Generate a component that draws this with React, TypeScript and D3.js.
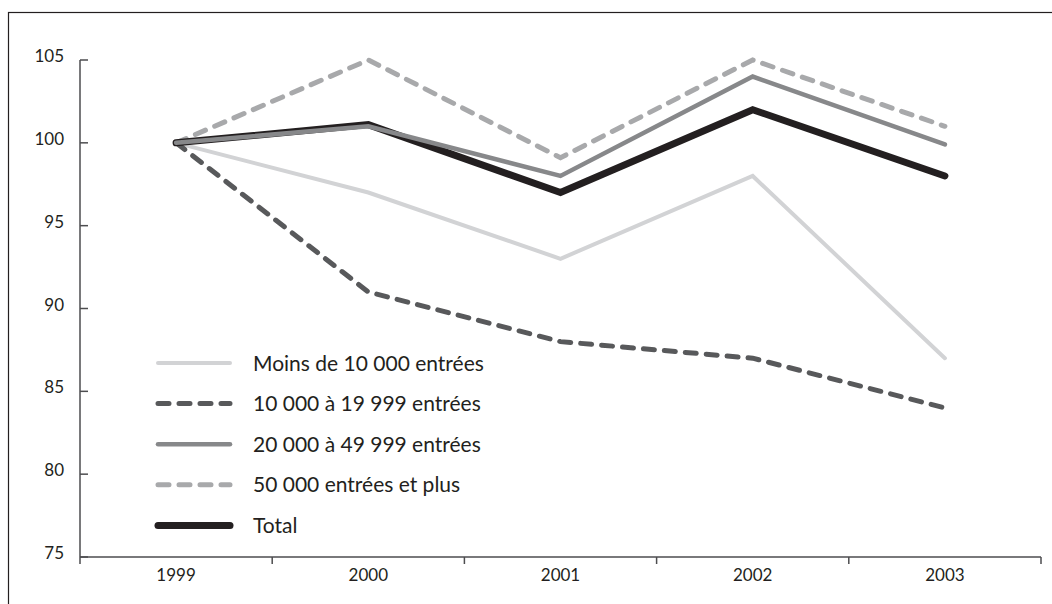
import React from "react";
import * as d3 from "d3";

const years = ["1999", "2000", "2001", "2002", "2003"];
const yTicks = [75, 80, 85, 90, 95, 100, 105];

const seriesNames = [
  "Moins de 10 000 entrées",
  "10 000 à 19 999 entrées",
  "20 000 à 49 999 entrées",
  "50 000 entrées et plus",
  "Total",
];
const moins10000 = [100, 97, 93, 98, 87];
const de10000a19999 = [100, 91, 88, 87, 84];
const de20000a49999 = [100, 101, 98, 104, 99.9];
const plus50000 = [100, 105, 99.1, 105, 101];
const total = [100, 101.1, 97, 102, 98];

const seriesValues = [moins10000, de10000a19999, de20000a49999, plus50000, total];
const styles = [
  { color: "#d2d3d5", width: 4, dash: "" },
  { color: "#58595b", width: 5, dash: "11,10" },
  { color: "#87888a", width: 4.5, dash: "" },
  { color: "#a8a9ab", width: 5, dash: "11,10" },
  { color: "#231f20", width: 7, dash: "" },
];
const drawOrder = [0, 1, 3, 4, 2];

export default function App() {
  const W = 1052, H = 604;
  const left = 80, right = 1041, top = 60, bottom = 557;
  const x = d3.scaleBand<string>().domain(years).range([left, right]);
  const y = d3.scaleLinear().domain([75, 105]).range([bottom, top]);
  const line = d3
    .line<number>()
    .x((_, i) => (x(years[i]) as number) + x.bandwidth() / 2)
    .y((d) => y(d));
  const font = "Lato, 'Open Sans', sans-serif";
  const textColor = "#231f20";
  const axisColor = "#4d4d4f";
  const tickXs = [...years.map((yr) => x(yr) as number), right];

  return (
    <svg
      width={W}
      height={H}
      style={{ position: "absolute", left: 0, top: 0, background: "#fff" }}
      fontFamily={font}
    >
      <rect x={8.5} y={12.5} width={1200} height={800} fill="none" stroke="#231f20" strokeWidth={1.2} />
      {/* y axis */}
      <line x1={left} x2={left} y1={top} y2={bottom} stroke={axisColor} strokeWidth={1.5} />
      {yTicks.map((t) => (
        <g key={t}>
          <line x1={left} x2={left + 8} y1={y(t)} y2={y(t)} stroke={axisColor} strokeWidth={1.5} />
          <text x={left - 16} y={y(t) + 2} textAnchor="end" fontSize={17} fill={textColor}>
            {t}
          </text>
        </g>
      ))}
      {/* x axis */}
      <line x1={left} x2={right} y1={bottom} y2={bottom} stroke={axisColor} strokeWidth={1.5} />
      {tickXs.map((tx, i) => (
        <line key={i} x1={tx} x2={tx} y1={bottom} y2={bottom + 7} stroke={axisColor} strokeWidth={1.5} />
      ))}
      {years.map((yr) => (
        <text
          key={yr}
          x={(x(yr) as number) + x.bandwidth() / 2}
          y={bottom + 24}
          textAnchor="middle"
          fontSize={17}
          fill={textColor}
        >
          {yr}
        </text>
      ))}
      {/* lines */}
      {drawOrder.map((si) => (
        <path
          key={si}
          d={line(seriesValues[si]) || ""}
          fill="none"
          stroke={styles[si].color}
          strokeWidth={styles[si].width}
          strokeDasharray={styles[si].dash || undefined}
          strokeLinecap="round"
          strokeLinejoin="miter"
        />
      ))}
      {/* legend */}
      {seriesNames.map((name, i) => {
        const ly = 363 + i * 40.6;
        return (
          <g key={name}>
            <line
              x1={158}
              x2={230}
              y1={ly}
              y2={ly}
              stroke={styles[i].color}
              strokeWidth={styles[i].width}
              strokeDasharray={styles[i].dash || undefined}
              strokeLinecap="round"
            />
            <text x={253} y={ly} dy="0.36em" fontSize={21} fill={textColor}>
              {name}
            </text>
          </g>
        );
      })}
    </svg>
  );
}
